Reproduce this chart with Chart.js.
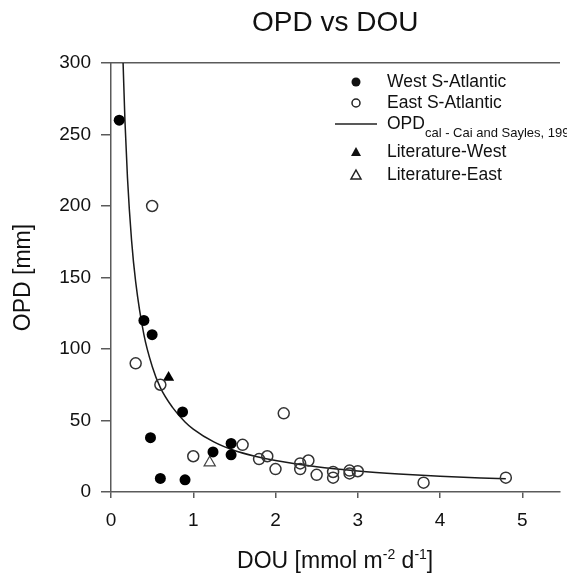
<!DOCTYPE html>
<html lang="en">
<head>
  <meta charset="UTF-8" />
  <title>OPD vs DOU</title>
  <script src="https://cdn.jsdelivr.net/npm/chart.js"></script>
  <style>
    html, body { margin: 0; padding: 0; background: #ffffff; }
    #wrap { width: 567px; height: 576px; position: relative; }
  </style>
</head>
<body>
  <div id="wrap"><canvas id="opdChart"></canvas></div>

  <script>
    // values
    const westX = [0.1, 0.4, 0.5, 0.48, 0.87, 1.24, 1.46, 1.46, 0.6, 0.9];
    const westY = [260, 120, 110, 38, 56, 28, 34, 26, 9.5, 8.5];

    const eastX = [0.5, 0.3, 0.6, 1.0, 1.6, 2.1, 1.8, 1.9, 2.0, 2.3, 2.3, 2.4, 2.5, 2.7, 2.7, 2.9, 2.9, 3.0, 3.8, 4.8];
    const eastY = [200, 90, 75, 25, 33, 55, 23, 25, 16, 20, 16, 22, 12, 14, 10, 15, 13, 14.5, 6.5, 10];

    const litWestX = [0.7];
    const litWestY = [80];
    const litEastX = [1.2];
    const litEastY = [20.5];

    // OPDcal curve
    const curveX = [0.147, 0.17, 0.2, 0.25, 0.3, 0.4, 0.5, 0.6, 0.75, 0.9, 1.0, 1.25, 1.5, 1.75, 2.0, 2.5, 3.0, 3.5, 4.0, 4.5, 4.8];
    const curveY = [300, 259, 220, 176, 147, 110, 88, 73, 59, 49, 44, 35, 29, 25, 22, 17.6, 14.7, 12.6, 11, 9.8, 9.2];

    const xTicks = [0, 1, 2, 3, 4, 5];
    const yTicks = [0, 50, 100, 150, 200, 250, 300];

    const titleText = 'OPD vs DOU';
    const yTitle = 'OPD [mm]';
    const xTitleParts = [['DOU [mmol m', false], ['-2', true], [' d', false], ['-1', true], [']', false]];
    const legendLabels = ['West S-Atlantic', 'East S-Atlantic', 'OPD', 'Literature-West', 'Literature-East'];
    const curveSub = 'cal - Cai and Sayles, 1996';

    const FONT = '"Liberation Sans", Arial, Helvetica, sans-serif';
    const AXIS = '#5a5a5a';
    Chart.defaults.font.family = FONT;
    Chart.defaults.color = '#111';

    const toPts = (xs, ys) => xs.map((x, i) => ({ x: x, y: ys[i] }));

    // title, axis titles with superscripts, and the legend (subscript label)
    const extras = {
      id: 'extras',
      afterDraw(chart) {
        const ctx = chart.ctx;
        const a = chart.chartArea;
        const cx = (a.left + a.right) / 2;
        ctx.save();
        ctx.fillStyle = '#111';
        ctx.textBaseline = 'middle';
        ctx.textAlign = 'center';

        ctx.font = '28px ' + FONT;
        ctx.fillText(titleText, cx, 23);

        ctx.save();
        ctx.translate(24, (a.top + a.bottom) / 2);
        ctx.rotate(-Math.PI / 2);
        ctx.font = '23px ' + FONT;
        ctx.fillText(yTitle, 0, 0);
        ctx.restore();

        // x title, drawn piece by piece
        ctx.textAlign = 'left';
        const big = '23px ' + FONT, small = '14px ' + FONT;
        let w = 0;
        xTitleParts.forEach(([t, sup]) => { ctx.font = sup ? small : big; w += ctx.measureText(t).width; });
        let px = cx - w / 2;
        const py = 562;
        xTitleParts.forEach(([t, sup]) => {
          ctx.font = sup ? small : big;
          ctx.fillText(t, px, sup ? py - 7 : py);
          px += ctx.measureText(t).width;
        });

        // legend
        const mx = 356, tx = 387;
        const rows = [82, 103, 124, 152, 175];
        rows.forEach((ry, i) => {
          ctx.strokeStyle = '#222';
          ctx.fillStyle = '#111';
          ctx.lineWidth = 1.5;
          if (i === 0) {
            ctx.beginPath(); ctx.arc(mx, ry, 4.5, 0, Math.PI * 2); ctx.fill();
          } else if (i === 1) {
            ctx.beginPath(); ctx.arc(mx, ry, 4, 0, Math.PI * 2); ctx.stroke();
          } else if (i === 2) {
            ctx.beginPath(); ctx.moveTo(335, ry); ctx.lineTo(377, ry); ctx.stroke();
          } else {
            ctx.beginPath();
            ctx.moveTo(mx, ry - 5); ctx.lineTo(mx + 5, ry + 4); ctx.lineTo(mx - 5, ry + 4); ctx.closePath();
            if (i === 3) ctx.fill(); else ctx.stroke();
          }
          ctx.fillStyle = '#111';
          ctx.font = '17.5px ' + FONT;
          ctx.fillText(legendLabels[i], tx, ry);
          if (i === 2) {
            const ow = ctx.measureText(legendLabels[i]).width;
            ctx.font = '13px ' + FONT;
            ctx.fillText(curveSub, tx + ow, ry + 9);
          }
        });
        ctx.restore();
      }
    };

    new Chart(document.getElementById('opdChart'), {
      type: 'scatter',
      data: {
        datasets: [
          {
            label: legendLabels[2], data: toPts(curveX, curveY), type: 'line',
            borderColor: '#1a1a1a', borderWidth: 1.5, pointRadius: 0,
            cubicInterpolationMode: 'monotone', fill: false, order: 5
          },
          {
            label: legendLabels[0], data: toPts(westX, westY),
            pointStyle: 'circle', pointRadius: 5.5, backgroundColor: '#000', borderColor: '#000', borderWidth: 0
          },
          {
            label: legendLabels[1], data: toPts(eastX, eastY),
            pointStyle: 'circle', pointRadius: 5.5, backgroundColor: 'rgba(0,0,0,0)', borderColor: '#333', borderWidth: 1.5
          },
          {
            label: legendLabels[3], data: toPts(litWestX, litWestY),
            pointStyle: 'triangle', pointRadius: 6.5, backgroundColor: '#000', borderColor: '#000', borderWidth: 0
          },
          {
            label: legendLabels[4], data: toPts(litEastX, litEastY),
            pointStyle: 'triangle', pointRadius: 6.5, backgroundColor: 'rgba(0,0,0,0)', borderColor: '#444', borderWidth: 1.2
          }
        ]
      },
      options: {
        responsive: true,
        maintainAspectRatio: false,
        animation: false,
        layout: { padding: { top: 63, right: 1, left: 0, bottom: 0 } },
        plugins: { legend: { display: false }, title: { display: false }, tooltip: { enabled: false } },
        scales: {
          x: {
            type: 'linear', position: 'bottom', min: 0, max: 5.45,
            afterBuildTicks: s => { s.ticks = xTicks.map(v => ({ value: v })); },
            afterFit: s => { s.height = 84; },
            ticks: { font: { size: 19 }, color: '#111', padding: 11, includeBounds: false },
            grid: { drawOnChartArea: false, drawTicks: true, tickLength: 6, color: AXIS, lineWidth: 1.5 },
            border: { display: true, color: AXIS, width: 1.5 }
          },
          xTop: {
            type: 'linear', position: 'top', min: 0, max: 5.45,
            afterFit: s => { s.height = 0; },
            ticks: { display: false },
            grid: { display: false, drawTicks: false },
            border: { display: true, color: AXIS, width: 1.5 }
          },
          y: {
            min: 0, max: 300,
            afterBuildTicks: s => { s.ticks = yTicks.map(v => ({ value: v })); },
            afterFit: s => { s.width = 111; },
            ticks: { font: { size: 19 }, color: '#111', padding: 10 },
            grid: { drawOnChartArea: false, drawTicks: true, tickLength: 10, color: AXIS, lineWidth: 1.5 },
            border: { display: true, color: AXIS, width: 1.5 }
          }
        }
      },
      plugins: [extras]
    });
  </script>
</body>
</html>
